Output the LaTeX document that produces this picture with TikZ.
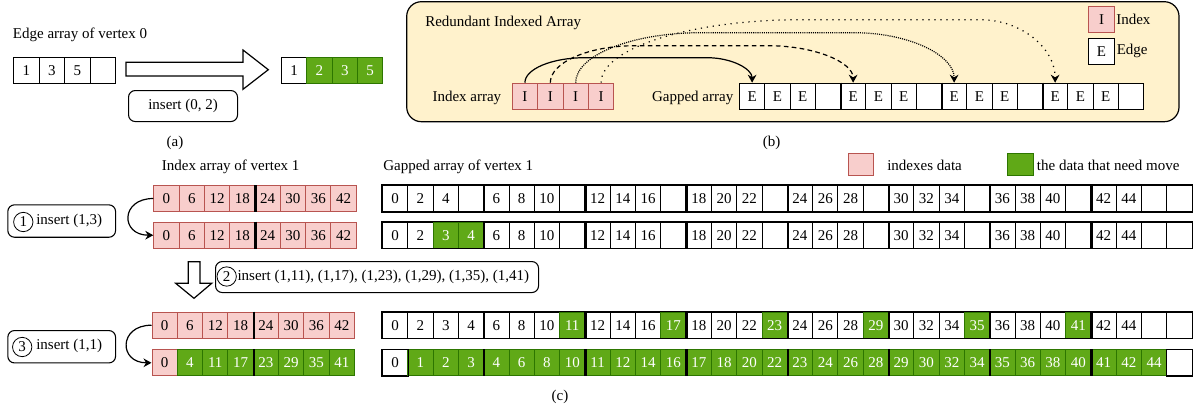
\documentclass[tikz,border=0pt]{standalone}
\usepackage{fontspec}
\setmainfont{Liberation Serif}
\usetikzlibrary{arrows.meta,calc}
\definecolor{gfill}{HTML}{60A917}
\definecolor{gdraw}{HTML}{2D7600}
\definecolor{pfill}{HTML}{F8CECC}
\definecolor{pdraw}{HTML}{B85450}
\definecolor{beige}{HTML}{FFF2CC}
\newcommand\fsz{\fontsize{11.25pt}{13.5pt}\selectfont}
% #1 name prefix, #2 x, #3 y, #4 cell width (px), #5 list type/value
\newcommand\cellrow[5]{%
  \foreach \t/\v [count=\i from 0] in {#5} {
    \node[cell\t, minimum width=#4*0.75pt] (#1-\i) at (#2+\i*#4,#3) {\v};
  }}
% #1 style, #2 from node anchor, #3 to node anchor, #4 rise, #5 run at start, #6 run at end
\newcommand\archconn[6]{%
  \draw[conn,#1] (#2) .. controls ($(#2)+(0,-0.55*#4)$) and ($(#2)+(0.45*#5,-#4)$) .. ($(#2)+(#5,-#4)$)
    -- ($(#3)+(-#6,-#4)$) .. controls ($(#3)+(-0.45*#6,-#4)$) and ($(#3)+(0,-0.55*#4)$) .. (#3);}
\tikzset{
  cellbase/.style={draw=black, line width=0.75pt, minimum height=19.5pt, inner sep=0pt, anchor=north west, font=\fsz},
  cellw/.style={cellbase, fill=white},
  cellg/.style={cellbase, fill=gfill, draw=gdraw, text=white},
  cellp/.style={cellbase, fill=pfill, draw=pdraw},
  thicksep/.style={line width=1.8pt, line cap=butt},
  rowframe/.style={line width=1pt},
  stepbox/.style={draw, rounded corners=5pt, line width=0.8pt, anchor=north west, inner sep=0pt},
  conn/.style={line width=0.9pt, -{Stealth[length=6pt,width=6.5pt]}},
  lbl/.style={inner sep=0pt, font=\fsz},
  circnum/.style={draw, circle, minimum size=14.5pt, inner sep=0pt, line width=0.6pt, font=\fsz},
  blockarrow/.style={draw, fill=white, line width=0.9pt, line join=miter},
}
\begin{document}
\begin{tikzpicture}[x=0.75pt,y=-0.75pt]
\useasboundingbox (0,0) rectangle (1194,408);

% ---------------- (a) ----------------
\node[lbl, anchor=west] (la) at (12.7,35) {Edge array of vertex 0};
\cellrow{a1}{13}{56.7}{25.5}{w/1,w/3,w/5,w/{}}
\draw[blockarrow] (126,62.3) -- (243,62.3) -- (243,50) -- (268.3,69.7) -- (243,89.3) -- (243,76) -- (126,76) -- cycle;
\cellrow{a2}{281}{56.7}{25.3}{w/1,g/2,g/3,g/5}
\node[stepbox, minimum width=81.75pt, minimum height=23.25pt] (ins0) at (128,90) {};
\node[lbl] (ins0t) at (ins0.center) {insert (0, 2)};
\node[lbl] (capa) at (175,143) {(a)};

% ---------------- (b) ----------------
\draw[fill=beige, line width=0.9pt, rounded corners=11pt] (406.7,1.7) rectangle (1179,121.7);
\node[lbl, anchor=west] (rtitle) at (425,22.7) {Redundant Indexed Array};
\node[lbl, anchor=east] (lidx) at (501.5,97.7) {Index array};
\cellrow{ib}{511.7}{82.7}{25.4}{p/I,p/I,p/I,p/I}
\node[lbl, anchor=east] (lgap) at (733.5,97.7) {Gapped array};
\cellrow{gb}{739}{82.7}{25.25}{w/E,w/E,w/E,w/{},w/E,w/E,w/E,w/{},w/E,w/E,w/E,w/{},w/E,w/E,w/E,w/{}}
\foreach \k in {3,7,11} \draw[thicksep] (gb-\k.north east) -- (gb-\k.south east);
% legend
\node[cellp, minimum width=19.5pt] (legI) at (1088,6) {I};
\node[lbl, anchor=west] (legIt) at (1116,19) {Index};
\node[cellw, minimum width=19.5pt] (legE) at (1088,37.7) {E};
\node[lbl, anchor=west] (legEt) at (1116.5,50.5) {Edge};
% connectors
\archconn{}{ib-0.north}{gb-0.north}{25}{60}{45}
\archconn{dash pattern=on 3.5pt off 2.5pt}{ib-1.north}{gb-4.north}{37}{85}{85}
\archconn{dash pattern=on 0.8pt off 0.8pt}{ib-2.north}{gb-8.north}{50}{125}{100}
\archconn{dash pattern=on 0.9pt off 3.6pt}{ib-3.north}{gb-12.north}{63}{200}{75}
\node[lbl] (capb) at (771.7,143) {(b)};

% ---------------- (c) ----------------
\node[lbl, anchor=west] (lic) at (161.7,166.7) {Index array of vertex 1};
\node[lbl, anchor=west] (lgc) at (383,166.7) {Gapped array of vertex 1};
% legend
\node[cellp, minimum width=18.75pt, minimum height=16.5pt] (legP) at (848,153.3) {};
\node[lbl, anchor=west] (legPt) at (887,165.5) {indexes data};
\node[cellg, minimum width=19.5pt, minimum height=16.5pt] (legG) at (1007,153.3) {};
\node[lbl, anchor=west] (legGt) at (1036.7,165.5) {the data that need move};

% index rows
\cellrow{i1}{153.3}{185}{25.3}{p/0,p/6,p/12,p/18,p/24,p/30,p/36,p/42}
\cellrow{i2}{153.3}{221.7}{25.3}{p/0,p/6,p/12,p/18,p/24,p/30,p/36,p/42}
\cellrow{i3}{151.5}{311.7}{25.3}{p/0,p/6,p/12,p/18,p/24,p/30,p/36,p/42}
\cellrow{i4}{151.5}{349.3}{25.3}{p/0,g/4,g/11,g/17,g/23,g/29,g/35,g/41}
\foreach \r in {i1,i2,i3,i4} \draw[thicksep] (\r-3.north east) -- (\r-3.south east);

% gapped rows
\cellrow{g1}{382}{185}{25.3}{w/0,w/2,w/4,w/{},w/6,w/8,w/10,w/{},w/12,w/14,w/16,w/{},w/18,w/20,w/22,w/{},w/24,w/26,w/28,w/{},w/30,w/32,w/34,w/{},w/36,w/38,w/40,w/{},w/42,w/44,w/{},w/{}}
\cellrow{g2}{382}{221.7}{25.3}{w/0,w/2,g/3,g/4,w/6,w/8,w/10,w/{},w/12,w/14,w/16,w/{},w/18,w/20,w/22,w/{},w/24,w/26,w/28,w/{},w/30,w/32,w/34,w/{},w/36,w/38,w/40,w/{},w/42,w/44,w/{},w/{}}
\cellrow{g3}{382}{311.7}{25.3}{w/0,w/2,w/3,w/4,w/6,w/8,w/10,g/11,w/12,w/14,w/16,g/17,w/18,w/20,w/22,g/23,w/24,w/26,w/28,g/29,w/30,w/32,w/34,g/35,w/36,w/38,w/40,g/41,w/42,w/44,w/{},w/{}}
\cellrow{g4}{382}{349.3}{25.3}{w/0,g/1,g/2,g/3,g/4,g/6,g/8,g/10,g/11,g/12,g/14,g/16,g/17,g/18,g/20,g/22,g/23,g/24,g/26,g/28,g/29,g/30,g/32,g/34,g/35,g/36,g/38,g/40,g/41,g/42,g/44,w/{}}
\foreach \r in {g1,g2,g3,g4} {
  \foreach \k in {3,7,11,15,19,23,27} \draw[thicksep] (\r-\k.north east) -- (\r-\k.south east);
}
\foreach \r in {g1,g2,g3} \draw[rowframe] (\r-0.north west) rectangle (\r-31.south east);
\draw[rowframe] (g4-31.north west) rectangle (g4-31.south east);
\draw[rowframe] (g4-0.north west) rectangle (g4-0.south east);

% step 1
\node[stepbox, minimum width=80.8pt, minimum height=24.3pt] (st1) at (7.3,204.3) {};
\node[circnum] (c1) at (23.3,222) {1};
\node[lbl, anchor=west] (st1t) at (36,220.5) {insert (1,3)};
\draw[conn] (i1-0.west) .. controls +(-33,0) and +(-33,0) .. (i2-0.west);

% step 2
\draw[blockarrow] (188.3,261.7) -- (200,261.7) -- (200,283.3) -- (211.7,283.3) -- (194,298.3) -- (175.7,283.3) -- (188.3,283.3) -- cycle;
\node[stepbox, minimum width=242.25pt, minimum height=23.25pt] (st2) at (215,261) {};
\node[circnum] (c2) at (226.7,276.5) {2};
\node[lbl, anchor=west] (st2t) at (237.3,276.5) {insert (1,11), (1,17), (1,23), (1,29), (1,35), (1,41)};

% step 3
\node[stepbox, minimum width=80.8pt, minimum height=24.3pt] (st3) at (7.3,330) {};
\node[circnum] (c3) at (22.2,347) {3};
\node[lbl, anchor=west] (st3t) at (36,346) {insert (1,1)};
\draw[conn] (i3-0.west) .. controls +(-33,0) and +(-33,0) .. (i4-0.west);

\node[lbl] (capc) at (560,396.5) {(c)};
\end{tikzpicture}
\end{document}
